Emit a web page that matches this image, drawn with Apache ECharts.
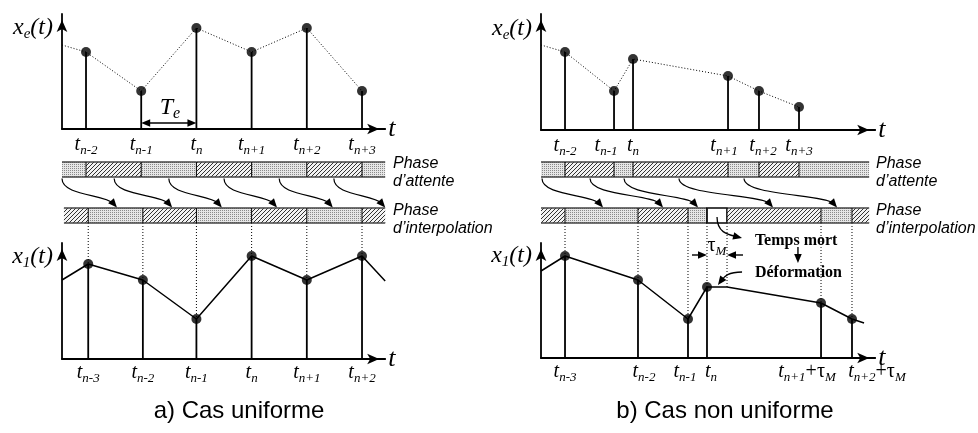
<!DOCTYPE html>
<html>
<head>
<meta charset="utf-8">
<title>Phase d'attente / Phase d'interpolation</title>
<script src="https://cdn.jsdelivr.net/npm/echarts@6.0.0/dist/echarts.min.js"></script>
<style>
html,body{margin:0;padding:0;background:#fff;}
#chart{width:978px;height:433px;}
</style>
</head>
<body>
<div id="chart"></div>
<script>
// ================= DATA =================
// a) Cas uniforme : samples x_e(t)
const L_sampleTimes  = [1, 2, 3, 4, 5, 6];
const L_sampleValues = [77, 38, 101, 77, 101, 38];
const L_sampleLabels = ['n-2', 'n-1', 'n', 'n+1', 'n+2', 'n+3'];
const L_sampleLead   = [0.565, 84];
// phases (wait / interpolation)
const L_waitBounds   = [0.565, 1, 2, 3, 4, 5, 6, 6.42];
const L_waitKinds    = ['d', 'h', 'd', 'h', 'd', 'h', 'd'];
const L_interpBounds = [0.6, 1.04, 2.03, 3, 4, 5, 6, 6.42];
const L_interpKinds  = ['h', 'd', 'h', 'd', 'h', 'd', 'h'];
const L_arrowFrom    = [0.565, 1.51, 2.5, 3.5, 4.5, 5.49];
const L_arrowTo      = [1.56, 2.56, 3.46, 4.46, 5.47, 6.42];
// output x_1(t)
const L_outTimes  = [1.04, 2.03, 3, 4, 5, 6];
const L_outValues = [95, 79, 40, 103, 79, 103];
const L_outLabels = ['n-3', 'n-2', 'n-1', 'n', 'n+1', 'n+2'];
const L_outLead   = [0.565, 79];
const L_outTail   = [6.42, 78];
// sampling period Te
const L_TeSpan     = [2, 3];
const L_TeLevel    = 6;
const L_TeLabelPos = [2.52, 21];

// b) Cas non uniforme : samples x_e(t)
const R_sampleTimes  = [1, 1.888, 2.232, 3.953, 4.514, 5.239];
const R_sampleValues = [78, 39, 71, 54, 39, 23];
const R_sampleLabels = ['n-2', 'n-1', 'n', 'n+1', 'n+2', 'n+3'];
const R_sampleLead   = [0.565, 85];
const R_waitBounds   = [0.565, 1, 1.888, 2.232, 3.953, 4.514, 5.239, 6.51];
const R_waitKinds    = ['d', 'h', 'd', 'h', 'd', 'h', 'd'];
const R_interpBounds = [0.565, 1, 2.322, 3.228, 3.572, 3.935, 5.638, 6.199, 6.51];
const R_interpKinds  = ['h', 'd', 'h', 'd', 'w', 'h', 'd', 'h'];
const R_arrowFrom    = [0.583, 1.453, 2.069, 3.065, 4.243];
const R_arrowTo      = [1.688, 2.775, 3.409, 4.768, 5.928];
// output x_1(t)
const R_outTimes     = [1, 2.322, 3.228, 3.572, 5.638, 6.199];
const R_outValues    = [102, 78, 39, 71, 55, 39];
const R_outLabels    = ['n-3', 'n-2', 'n-1', 'n', 'n+1', 'n+2'];
const R_outTauSuffix = [false, false, false, false, true, true];
const R_deadEnd      = [3.935, 71];
const R_outLead      = [0.565, 87];
const R_outTail      = [6.417, 35];
// annotations (dead time / deformation)
const R_tauLevel       = 103;
const R_tauArrowFrom   = [3.30, 4.225];
const R_tauArrowTo     = [3.572, 3.935];
const R_annotTexts     = ['{g|τ}{s|M}', 'Temps mort', 'Déformation'];
const R_annotPos       = [[3.75, 112], [4.44, 117], [4.44, 85]];
const R_downArrow      = [5.22, 111, 5.22, 95];
const R_deadArrow      = [3.754, 141, 4.207, 120];
const R_deformArrow    = [4.207, 86, 3.77, 73];

// ================= LAYOUT / STYLE =================
const SERIF = '"Liberation Serif","Times New Roman",serif';
const SANS = '"Liberation Sans",Arial,sans-serif';
const PX = 55.2;
const L_X = {min: 0.565, max: 6.42, left: 62};
const R_X = {min: 0.565, max: 6.62, left: 541};
const WAIT_Y = 169.5, INTERP_Y = 215.5, BAR_H = 15;
const GUIDE_TOP = INTERP_Y + BAR_H / 2;
const L_topShift = [0, 0, 0, 0, 0, 0];
const L_botShift = [0, 0, 0, 0, 0, 0];
const R_topShift = [0, -8, 0, -4, 4, 0];
const R_botShift = [0, 6, -3, 4, -14, 25];
const BOT_LABEL_MARGIN = 3;

function makeDots() {
  const c = document.createElement('canvas'); c.width = 2; c.height = 2;
  const g = c.getContext('2d');
  g.fillStyle = '#e6e6e6'; g.fillRect(0, 0, 2, 2);
  g.fillStyle = '#8a8a8a'; g.fillRect(0, 0, 1, 1);
  return c;
}
function makeHatch() {
  const c = document.createElement('canvas'); c.width = 4; c.height = 4;
  const g = c.getContext('2d');
  g.fillStyle = '#f2f2f2'; g.fillRect(0, 0, 4, 4);
  g.fillStyle = '#333';
  for (let i = 0; i < 4; i++) g.fillRect(3 - i, i, 1, 1);
  return c;
}
const DOT_PAT = {image: makeDots(), repeat: 'repeat'};
const HATCH_PAT = {image: makeHatch(), repeat: 'repeat'};

const RICH = {
  m: {fontFamily: SERIF, fontStyle: 'italic', fontSize: 20, lineHeight: 22, color: '#000'},
  s: {fontFamily: SERIF, fontStyle: 'italic', fontSize: 13, lineHeight: 13, padding: [11, 0, 0, 0], color: '#000'},
  g: {fontFamily: SERIF, fontSize: 20, lineHeight: 22, color: '#000'}
};
const TEXT_RICH = {
  m: {fontFamily: SERIF, fontStyle: 'italic', fontSize: 20, lineHeight: 22, fill: '#000'},
  s: {fontFamily: SERIF, fontStyle: 'italic', fontSize: 13, lineHeight: 13, padding: [11, 0, 0, 0], fill: '#000'},
  g: {fontFamily: SERIF, fontSize: 20, lineHeight: 22, fill: '#000'}
};
const YRICH = {
  m: {fontFamily: SERIF, fontStyle: 'italic', fontSize: 24, lineHeight: 26, color: '#000'},
  s: {fontFamily: SERIF, fontStyle: 'italic', fontSize: 15, lineHeight: 15, padding: [13, 0, 0, 0], color: '#000'}
};
function richKey(base, side, amt) {
  const key = base + side + amt;
  if (!RICH[key]) {
    const p = (RICH[base].padding || [0, 0, 0, 0]).slice();
    if (side === 'L') p[3] += amt; else p[1] += amt;
    RICH[key] = Object.assign({}, RICH[base], {padding: p});
  }
  return key;
}
function buildLabels(labels, shifts, tau) {
  return labels.map((lab, i) => {
    const toks = [['m', 't'], ['s', lab]];
    if (tau && tau[i]) { toks.push(['g', '+τ']); toks.push(['s', 'M']); }
    const sh = shifts ? shifts[i] : 0;
    if (sh > 0) toks[0][0] = richKey(toks[0][0], 'L', 2 * sh);
    if (sh < 0) toks[toks.length - 1][0] = richKey(toks[toks.length - 1][0], 'R', -2 * sh);
    return toks.map(t => '{' + t[0] + '|' + t[1] + '}').join('');
  });
}
const L_topStr = buildLabels(L_sampleLabels, L_topShift);
const L_botStr = buildLabels(L_outLabels, L_botShift);
const R_topStr = buildLabels(R_sampleLabels, R_topShift);
const R_botStr = buildLabels(R_outLabels, null, R_outTauSuffix);

function fmt(times, strs) {
  return function (v) {
    const i = times.findIndex(t => Math.abs(t - v) < 1e-6);
    return i < 0 ? '' : strs[i];
  };
}
const zip = (a, b) => a.map((v, i) => [v, b[i]]);
const norm = v => { const l = Math.hypot(v[0], v[1]); return [v[0] / l, v[1] / l]; };

// ================= RENDER HELPERS =================
function arrowHead(tip, d, len, half) {
  const bx = tip[0] - d[0] * len, by = tip[1] - d[1] * len;
  const nx = -d[1], ny = d[0];
  return {type: 'polygon', shape: {points: [[tip[0], tip[1]], [bx + nx * half, by + ny * half], [bx - nx * half, by - ny * half]]}, style: {fill: '#000'}};
}
function curvedArrow(p0, d0, k0, p1, d1, k1, lw) {
  const L = 9;
  const cp1 = [p0[0] + d0[0] * k0, p0[1] + d0[1] * k0];
  const cp2 = [p1[0] - d1[0] * k1, p1[1] - d1[1] * k1];
  const e = [p1[0] - d1[0] * L * 0.6, p1[1] - d1[1] * L * 0.6];
  return [
    {type: 'bezierCurve', shape: {x1: p0[0], y1: p0[1], x2: e[0], y2: e[1], cpx1: cp1[0], cpy1: cp1[1], cpx2: cp2[0], cpy2: cp2[1]}, style: {stroke: '#000', fill: null, lineWidth: lw || 1.2}},
    arrowHead(p1, d1, L, 3.8)
  ];
}
function stemRender(params, api) {
  const t = api.value(0), v = api.value(1);
  const a = api.coord([t, 0]), b = api.coord([t, v]);
  return {type: 'line', shape: {x1: a[0], y1: a[1], x2: b[0], y2: b[1]}, style: {stroke: '#000', lineWidth: 1.8}};
}
function guideRender(params, api) {
  const b = api.coord([api.value(0), api.value(1)]);
  return {type: 'line', shape: {x1: b[0], y1: GUIDE_TOP, x2: b[0], y2: b[1]}, style: {stroke: '#000', lineWidth: 1, lineDash: [1, 2]}};
}
function segRender(params, api) {
  const s = api.value(0), e = api.value(1), row = api.value(2), k = api.value(3), first = api.value(4);
  const a = api.coord([s, row]), b = api.coord([e, row]);
  const y0 = a[1] - BAR_H / 2;
  const kids = [
    {type: 'rect', shape: {x: a[0], y: y0, width: b[0] - a[0], height: BAR_H},
     style: {fill: k === 0 ? DOT_PAT : (k === 1 ? HATCH_PAT : '#fff'), stroke: k === 2 ? '#000' : null, lineWidth: 1.4}},
    {type: 'line', shape: {x1: a[0], y1: y0, x2: b[0], y2: y0}, style: {stroke: '#444', lineWidth: 1.5}},
    {type: 'line', shape: {x1: a[0], y1: y0 + BAR_H, x2: b[0], y2: y0 + BAR_H}, style: {stroke: '#444', lineWidth: 1.5}}
  ];
  if (!first) kids.push({type: 'line', shape: {x1: a[0], y1: y0, x2: a[0], y2: y0 + BAR_H}, style: {stroke: '#000', lineWidth: 1}});
  return {type: 'group', children: kids};
}
function phaseArrowRender(params, api) {
  const a = api.coord([api.value(0), 1]), b = api.coord([api.value(1), 0]);
  const p0 = [a[0], a[1] + BAR_H / 2 + 1.5];
  const p1 = [b[0], b[1] - BAR_H / 2 - 0.5];
  const dy = p1[1] - p0[1];
  return {type: 'group', children: curvedArrow(p0, [0, 1], dy * 0.6, p1, norm([1, 1.15]), dy * 0.6)};
}
function straightArrowRender(params, api) {
  const a = api.coord([api.value(0), api.value(1)]), b = api.coord([api.value(2), api.value(3)]);
  const dbl = api.value(4);
  const d = norm([b[0] - a[0], b[1] - a[1]]);
  const L = 9;
  const s = dbl ? [a[0] + d[0] * L * 0.6, a[1] + d[1] * L * 0.6] : a;
  const e = [b[0] - d[0] * L * 0.6, b[1] - d[1] * L * 0.6];
  const kids = [{type: 'line', shape: {x1: s[0], y1: s[1], x2: e[0], y2: e[1]}, style: {stroke: '#000', lineWidth: 1.4}}, arrowHead(b, d, L, 3.8)];
  if (dbl) kids.push(arrowHead(a, [-d[0], -d[1]], L, 3.8));
  return {type: 'group', children: kids};
}
const CURVE_DIRS = [
  {d0: [0, 1], d1: norm([1, 0.25])},
  {d0: [-1, 0], d1: norm([-0.6, 0.8])}
];
function annotCurveRender(params, api) {
  const a = api.coord([api.value(0), api.value(1)]), b = api.coord([api.value(2), api.value(3)]);
  const cfg = CURVE_DIRS[params.dataIndex];
  const k = Math.hypot(b[0] - a[0], b[1] - a[1]) * 0.5;
  return {type: 'group', children: curvedArrow(a, cfg.d0, k, b, cfg.d1, k * 0.8, 1.3)};
}
const ANNOT_STYLE = [
  {align: 'center', font: 'italic 20px ' + SERIF},
  {align: 'left', font: 'bold 16px ' + SERIF},
  {align: 'left', font: 'bold 16px ' + SERIF}
];
function annotTextRender(params, api) {
  const p = api.coord([api.value(0), api.value(1)]);
  const st = ANNOT_STYLE[params.dataIndex];
  return {type: 'text', x: p[0], y: p[1], style: {
    text: R_annotTexts[params.dataIndex], font: st.font, fill: '#000', align: st.align, verticalAlign: 'middle', rich: TEXT_RICH
  }};
}
function teTextRender(params, api) {
  const p = api.coord([api.value(0), api.value(1)]);
  return {type: 'text', x: p[0], y: p[1], style: {
    text: '{m|T}{s|e}', align: 'center', verticalAlign: 'middle',
    rich: {m: {fontFamily: SERIF, fontStyle: 'italic', fontSize: 24, lineHeight: 26, fill: '#000'}, s: {fontFamily: SERIF, fontStyle: 'italic', fontSize: 16, lineHeight: 16, padding: [12, 0, 0, 0], fill: '#000'}}
  }};
}
// tick labels of the non-uniform output axis (drawn at the axis' own tick positions)
function botTickRender(params, api) {
  const i = params.dataIndex;
  const p = api.coord([api.value(0), 0]);
  return {type: 'text', x: p[0] + R_botShift[i], y: p[1] + BOT_LABEL_MARGIN, style: {
    text: R_botStr[i], align: 'center', verticalAlign: 'top', rich: TEXT_RICH
  }};
}
function segData(bounds, kinds, row) {
  return kinds.map((k, i) => [bounds[i], bounds[i + 1], row, 'dhw'.indexOf(k), i === 0 ? 1 : 0]);
}

// ================= AXES / GRIDS =================
function grids(X, topH, botH) {
  const w = (X.max - X.min) * PX;
  return [
    {left: X.left, top: 14, width: w, height: topH, outerBoundsMode: 'none', containLabel: false},
    {left: X.left, top: WAIT_Y, width: w, height: INTERP_Y - WAIT_Y, outerBoundsMode: 'none', containLabel: false},
    {left: X.left, top: 243, width: w, height: botH, outerBoundsMode: 'none', containLabel: false}
  ];
}
const AXLINE = {show: true, onZero: false, symbol: ['none', 'arrow'], symbolSize: [8, 12], symbolOffset: [0, -6], lineStyle: {color: '#000', width: 1.8}};
function xAx(gi, X, times, strs, margin, namePad) {
  return {
    gridIndex: gi, type: 'value', min: X.min, max: X.max,
    axisLine: AXLINE, axisTick: {show: false}, splitLine: {show: false},
    axisLabel: strs ? {show: true, customValues: times, formatter: fmt(times, strs), margin: margin, rich: RICH, showMinLabel: true, showMaxLabel: true, hideOverlap: false} : {show: false},
    name: 't', nameLocation: 'end', nameGap: 3, nameMoveOverlap: false,
    nameTextStyle: {fontFamily: SERIF, fontStyle: 'italic', fontSize: 26, color: '#000', align: 'left', verticalAlign: 'middle', padding: namePad || 0}
  };
}
function xHidden(gi, X) {
  return {gridIndex: gi, type: 'value', min: X.min, max: X.max, show: false};
}
function yAx(gi, H, sub, gap) {
  return {
    gridIndex: gi, type: 'value', min: 0, max: H,
    axisLine: AXLINE, axisTick: {show: false}, axisLabel: {show: false}, splitLine: {show: false},
    name: '{m|x}{s|' + sub + '}{m|(t)}', nameLocation: 'end', nameGap: gap, nameMoveOverlap: false,
    nameTextStyle: {align: 'right', verticalAlign: 'middle', padding: [0, 9, 0, 0], rich: YRICH}
  };
}
function yHidden(gi) {
  return {gridIndex: gi, type: 'value', min: 0, max: 1, show: false};
}

// ================= SERIES =================
function plotSeries(xi, lineData, dotted, stems, dots, guides) {
  const out = [
    {type: 'line', xAxisIndex: xi, yAxisIndex: xi, data: lineData, symbol: 'none', silent: true, z: 2,
     lineStyle: {color: '#000', width: dotted ? 1 : 1.5, type: dotted ? [1, 2] : 'solid'}},
    {type: 'custom', xAxisIndex: xi, yAxisIndex: xi, data: stems, renderItem: stemRender, silent: true, z: 2}
  ];
  if (guides) out.push({type: 'custom', xAxisIndex: xi, yAxisIndex: xi, data: guides, renderItem: guideRender, silent: true, clip: false, z: 1});
  out.push({type: 'scatter', xAxisIndex: xi, yAxisIndex: xi, data: dots, symbol: 'circle', symbolSize: 10, itemStyle: {color: '#000'}, silent: true, z: 4});
  return out;
}
function phaseSeries(xi, waitB, waitK, intB, intK, from, to) {
  return [
    {type: 'custom', xAxisIndex: xi, yAxisIndex: xi, data: segData(waitB, waitK, 1).concat(segData(intB, intK, 0)), renderItem: segRender, silent: true, clip: false, z: 2},
    {type: 'custom', xAxisIndex: xi, yAxisIndex: xi, data: zip(from, to), renderItem: phaseArrowRender, silent: true, clip: false, z: 3}
  ];
}

const L_samples = zip(L_sampleTimes, L_sampleValues);
const L_out = zip(L_outTimes, L_outValues);
const R_samples = zip(R_sampleTimes, R_sampleValues);
const R_out = zip(R_outTimes, R_outValues);
const R_outLine = [R_outLead].concat(R_out.slice(0, 4), [R_deadEnd], R_out.slice(4), [R_outTail]);

const series = [].concat(
  plotSeries(0, [L_sampleLead].concat(L_samples), true, L_samples, L_samples),
  [{type: 'custom', xAxisIndex: 0, yAxisIndex: 0, data: [[L_TeSpan[0], L_TeLevel, L_TeSpan[1], L_TeLevel, 1]], renderItem: straightArrowRender, silent: true, z: 3},
   {type: 'custom', xAxisIndex: 0, yAxisIndex: 0, data: [L_TeLabelPos], renderItem: teTextRender, silent: true, z: 3}],
  phaseSeries(1, L_waitBounds, L_waitKinds, L_interpBounds, L_interpKinds, L_arrowFrom, L_arrowTo),
  plotSeries(2, [L_outLead].concat(L_out, [L_outTail]), false, L_out, L_out, L_out),
  plotSeries(3, [R_sampleLead].concat(R_samples), true, R_samples, R_samples),
  phaseSeries(4, R_waitBounds, R_waitKinds, R_interpBounds, R_interpKinds, R_arrowFrom, R_arrowTo),
  plotSeries(5, R_outLine, false, R_out, R_out, R_out.concat([R_deadEnd])),
  [{type: 'custom', xAxisIndex: 5, yAxisIndex: 5, silent: true, clip: false, z: 3, renderItem: botTickRender,
    data: R_outTimes.map(t => [t, 0])},
   {type: 'custom', xAxisIndex: 5, yAxisIndex: 5, silent: true, clip: false, z: 3, renderItem: straightArrowRender,
    data: [[R_tauArrowFrom[0], R_tauLevel, R_tauArrowTo[0], R_tauLevel, 0],
           [R_tauArrowFrom[1], R_tauLevel, R_tauArrowTo[1], R_tauLevel, 0],
           R_downArrow.concat([0])]},
   {type: 'custom', xAxisIndex: 5, yAxisIndex: 5, silent: true, clip: false, z: 3, renderItem: annotCurveRender,
    data: [R_deadArrow, R_deformArrow]},
   {type: 'custom', xAxisIndex: 5, yAxisIndex: 5, silent: true, clip: false, z: 3, renderItem: annotTextRender,
    data: R_annotPos}]
);

const option = {
  animation: false,
  backgroundColor: '#fff',
  grid: grids(L_X, 115, 116).concat(grids(R_X, 116, 115)),
  xAxis: [
    xAx(0, L_X, L_sampleTimes, L_topStr, 5),
    xHidden(1, L_X),
    xAx(2, L_X, L_outTimes, L_botStr, BOT_LABEL_MARGIN),
    xAx(3, R_X, R_sampleTimes, R_topStr, 5),
    xHidden(4, R_X),
    xAx(5, R_X, R_outTimes, null, BOT_LABEL_MARGIN, [0, 0, 8, 0])
  ],
  yAxis: [
    yAx(0, 115, 'e', -14), yHidden(1), yAx(2, 116, '1', -14),
    yAx(3, 116, 'e', -15), yHidden(4), yAx(5, 115, '1', -13)
  ],
  series: series,
  graphic: [
    {type: 'text', x: 393, y: 155, style: {text: 'Phase\nd\u2019attente', font: 'italic 16px ' + SANS, lineHeight: 18, fill: '#000'}},
    {type: 'text', x: 393, y: 202, style: {text: 'Phase\nd\u2019interpolation', font: 'italic 16px ' + SANS, lineHeight: 18, fill: '#000'}},
    {type: 'text', x: 876, y: 155, style: {text: 'Phase\nd\u2019attente', font: 'italic 16px ' + SANS, lineHeight: 18, fill: '#000'}},
    {type: 'text', x: 876, y: 202, style: {text: 'Phase\nd\u2019interpolation', font: 'italic 16px ' + SANS, lineHeight: 18, fill: '#000'}},
    {type: 'text', x: 239, y: 411, style: {text: 'a) Cas uniforme', font: '24px ' + SANS, fill: '#000', align: 'center', verticalAlign: 'middle'}},
    {type: 'text', x: 725, y: 411, style: {text: 'b) Cas non uniforme', font: '24px ' + SANS, fill: '#000', align: 'center', verticalAlign: 'middle'}}
  ]
};

const chart = echarts.init(document.getElementById('chart'), null, {renderer: 'canvas'});
chart.setOption(option);
</script>
</body>
</html>
